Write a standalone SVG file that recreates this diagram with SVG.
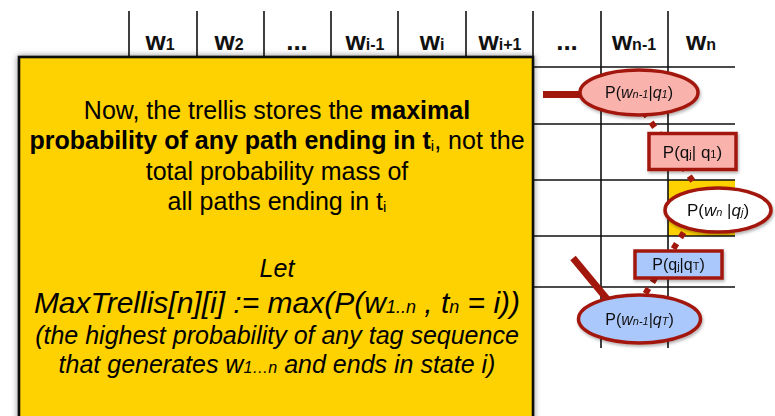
<svg xmlns="http://www.w3.org/2000/svg" width="775" height="416" viewBox="0 0 775 416">
<defs>
<filter id="sh" x="-20%" y="-20%" width="140%" height="140%">
<feDropShadow dx="0" dy="0" stdDeviation="3" flood-color="#000" flood-opacity="0.45"/>
</filter>
<filter id="nsh" x="-20%" y="-20%" width="140%" height="150%">
<feDropShadow dx="1" dy="2" stdDeviation="1.5" flood-color="#000" flood-opacity="0.3"/>
</filter>
<style>
.grid{stroke:#111;stroke-width:1.6;fill:none}
.hd{font-family:"Liberation Sans",Arial,sans-serif;font-weight:bold;font-size:26px;fill:#111;text-anchor:middle}
.hd .s{font-size:16px}
.node{stroke:#a3180c;stroke-width:3.5}
.pink{fill:#fab2ad}
.blue{fill:#abc8fc}
.white{fill:#fff}
.nt{font-family:"Liberation Sans",Arial,sans-serif;fill:#111;text-anchor:middle}
.it{font-style:italic}
.thick{stroke:#a3180c;stroke-width:7;fill:none}
.dot{stroke:#a3180c;stroke-width:6;fill:none;stroke-dasharray:6 7.2}
.bx{font-family:"Liberation Sans",Arial,sans-serif;fill:#000;text-anchor:middle}
</style>
</defs>
<rect width="775" height="416" fill="#fff"/>
<g id="grid">
<rect x="668" y="180" width="67" height="56" fill="#fed100"/>
<path class="grid" d="M129 11V57M197 11V57M264 11V57M331 11V57M398 11V57M466 11V57M533 11V67M601 11V348M668 11V348"/>
<path class="grid" d="M533 67H735M533 124H735M533 180H735M533 236H735M533 287H735"/>
<text class="hd" x="160" y="50">w<tspan class="s">1</tspan></text>
<text class="hd" x="229" y="50">w<tspan class="s">2</tspan></text>
<text class="hd" x="297" y="50">...</text>
<text class="hd" x="365" y="50">w<tspan class="s">i-1</tspan></text>
<text class="hd" x="432" y="50">w<tspan class="s">i</tspan></text>
<text class="hd" x="500" y="50">w<tspan class="s">i+1</tspan></text>
<text class="hd" x="567" y="50">...</text>
<text class="hd" x="634" y="50">w<tspan class="s">n-1</tspan></text>
<text class="hd" x="701" y="50">w<tspan class="s">n</tspan></text>
</g>
<g id="connectors">
<path class="thick" d="M543 94.5H582"/>
<path class="thick" d="M573 258L607 299"/>
<path class="dot" d="M643.5 111.5L697 187"/>
<path class="dot" d="M690.6 221.3L645.4 293.5"/>
</g>
<g id="e1" filter="url(#nsh)">
<ellipse class="node pink" cx="639" cy="92.5" rx="59" ry="22.5"/>
<text class="nt" x="639" y="98" font-size="16">P(<tspan class="it">w</tspan><tspan class="it" font-size="11">n-1</tspan>|<tspan class="it">q</tspan><tspan class="it" font-size="11">1</tspan>)</text>
</g>
<g id="r1" filter="url(#nsh)">
<rect class="node pink" x="649" y="133.5" width="87" height="36"/>
<text class="nt" x="692.5" y="158" font-size="17">P(q<tspan font-size="11">j</tspan>| q<tspan font-size="11">1</tspan>)</text>
</g>
<g id="e2" filter="url(#nsh)">
<ellipse class="node white" cx="718" cy="210" rx="53" ry="22"/>
<text class="nt" x="718" y="216" font-size="17">P(<tspan class="it">w</tspan><tspan class="it" font-size="11">n</tspan> |<tspan class="it">q</tspan><tspan class="it" font-size="11">j</tspan>)</text>
</g>
<g id="r2" filter="url(#nsh)">
<rect class="node blue" x="635" y="251" width="87" height="27"/>
<text class="nt" x="678.5" y="270" font-size="16">P(q<tspan font-size="11">j</tspan>|q<tspan font-size="11">T</tspan>)</text>
</g>
<g id="e3" filter="url(#nsh)">
<ellipse class="node blue" cx="639.5" cy="319" rx="61" ry="24"/>
<text class="nt" x="639.5" y="325" font-size="16">P(<tspan class="it">w</tspan><tspan class="it" font-size="11">n-1</tspan>|<tspan class="it">q</tspan><tspan class="it" font-size="11">T</tspan>)</text>
</g>
<g id="box">
<rect x="19" y="57" width="514" height="380" fill="#fed100" stroke="#111" stroke-width="2.6" filter="url(#sh)"/>
<text class="bx" x="277" y="119" font-size="25">Now, the trellis stores the <tspan font-weight="bold">maximal</tspan></text>
<text class="bx" x="277" y="149" font-size="25"><tspan font-weight="bold">probability of any path ending in t</tspan><tspan font-size="15" dy="2">i</tspan><tspan dy="-2">, not the</tspan></text>
<text class="bx" x="277" y="180" font-size="25">total probability mass of</text>
<text class="bx" x="277" y="210" font-size="25">all paths ending in t<tspan font-size="15" dy="2">i</tspan></text>
<text class="bx it" x="277" y="277" font-size="25">Let</text>
<text class="bx it" x="277" y="313" font-size="30">MaxTrellis[n][i] := max(P(w<tspan font-size="18">1..n</tspan> , t<tspan font-size="18">n</tspan> = i))</text>
<text class="bx it" x="277" y="344" font-size="25">(the highest probability of any tag sequence</text>
<text class="bx it" x="277" y="373" font-size="25">that generates w<tspan font-size="16">1…n</tspan> and ends in state i)</text>
</g>
</svg>
